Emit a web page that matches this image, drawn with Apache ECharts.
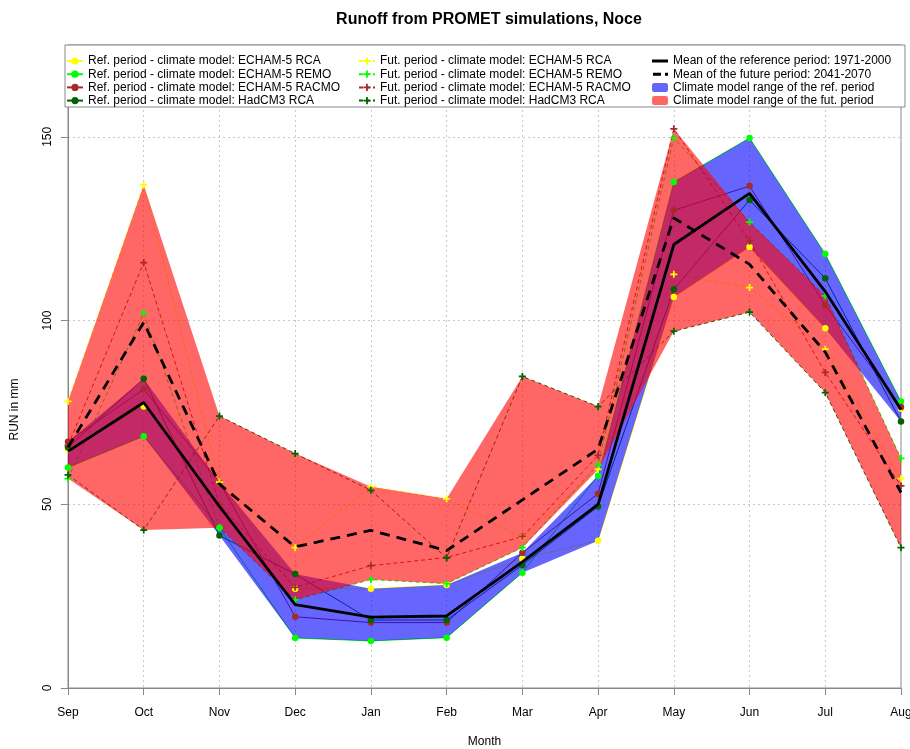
<!DOCTYPE html>
<html>
<head>
<meta charset="utf-8">
<script src="https://cdn.jsdelivr.net/npm/echarts@6/dist/echarts.min.js"></script>
<style>
html,body{margin:0;padding:0;background:#fff;}
#chart{width:910px;height:749px;}
</style>
</head>
<body>
<div id="chart"></div>
<script>
// ---- data ----
const months = ['Sep','Oct','Nov','Dec','Jan','Feb','Mar','Apr','May','Jun','Jul','Aug'];
const yTicks = [0, 50, 100, 150];

// reference period 1971-2000
const refRCA   = [65, 76.6, 56, 27, 27, 28, 35.2, 40.1, 106.4, 120, 97.9, 76];
const refREMO  = [60, 68.5, 43.6, 13.6, 12.8, 13.7, 31.4, 57.8, 137.7, 149.7, 118.1, 78];
const refRACMO = [67, 81.3, 56, 19.4, 17.8, 17.8, 36.8, 52.9, 130, 136.6, 104.2, 76.5];
const refHad   = [65.5, 84.2, 41.5, 31, 18.5, 18.5, 33.5, 49.4, 108.5, 132.8, 111.5, 72.5];

// future period 2041-2070
const futRCA   = [78, 136.9, 56, 38.2, 54.8, 51.5, 41, 59.5, 112.6, 109, 92.2, 57];
const futREMO  = [57, 102, 43.6, 24, 29.5, 28.4, 38.2, 60.8, 149.7, 126.8, 106.7, 62.5];
const futRACMO = [66, 115.8, 50, 27.4, 33.3, 35.5, 41.2, 63.3, 152.2, 121.6, 85.9, 55];
const futHad   = [58, 43, 74, 63.8, 53.8, 35.4, 84.8, 76.6, 97.1, 102.3, 80.4, 38.2];

// means
const meanRef = [64.4, 77.7, 49.4, 22.7, 19.3, 19.6, 34.3, 50, 120.7, 134.6, 107.9, 75.8];
const meanFut = [65.5, 99.5, 55.5, 38.4, 42.9, 37.4, 51.2, 65, 127.9, 115.3, 91.4, 53.2];

// ---- build ----
const FONT = "'Liberation Sans', Arial, Helvetica, sans-serif";
const PLUS = 'path://M3,0H5V3H8V5H5V8H3V5H0V3H3Z';
const ICON_SOLID = 'path://M0,0L0.01,0L0,0.01Z M0,9L0.01,9L0,8.99Z M0,3H17V6H0Z';
const ICON_DASH = 'path://M0,0L0.01,0L0,0.01Z M0,9L0.01,9L0,8.99Z M1,3H9V6H1Z M13,3H16V6H13Z';
const names = {
  refRCA: 'Ref. period - climate model: ECHAM-5 RCA',
  refREMO: 'Ref. period - climate model: ECHAM-5 REMO',
  refRACMO: 'Ref. period - climate model: ECHAM-5 RACMO',
  refHad: 'Ref. period - climate model: HadCM3 RCA',
  futRCA: 'Fut. period - climate model: ECHAM-5 RCA',
  futREMO: 'Fut. period - climate model: ECHAM-5 REMO',
  futRACMO: 'Fut. period - climate model: ECHAM-5 RACMO',
  futHad: 'Fut. period - climate model: HadCM3 RCA',
  meanRef: 'Mean of the reference period: 1971-2000',
  meanFut: 'Mean of the future period: 2041-2070',
  bandRef: 'Climate model range of the ref. period',
  bandFut: 'Climate model range of the fut. period'
};
const colors = {RCA:'#ffff00', REMO:'#00ff00', RACMO:'#a52a2a', Had:'#006400'};

const models = [
  {key:'refRCA', data:refRCA, c:colors.RCA, fut:false},
  {key:'refREMO', data:refREMO, c:colors.REMO, fut:false},
  {key:'refRACMO', data:refRACMO, c:colors.RACMO, fut:false},
  {key:'refHad', data:refHad, c:colors.Had, fut:false},
  {key:'futRCA', data:futRCA, c:colors.RCA, fut:true},
  {key:'futREMO', data:futREMO, c:colors.REMO, fut:true},
  {key:'futRACMO', data:futRACMO, c:colors.RACMO, fut:true},
  {key:'futHad', data:futHad, c:colors.Had, fut:true}
];

const refSet = [refRCA, refREMO, refRACMO, refHad];
const futSet = [futRCA, futREMO, futRACMO, futHad];
const minOf = set => months.map((_, i) => Math.min(...set.map(a => a[i])));
const maxOf = set => months.map((_, i) => Math.max(...set.map(a => a[i])));
const refMin = minOf(refSet), refMax = maxOf(refSet);
const futMin = minOf(futSet), futMax = maxOf(futSet);
const refSpan = refMax.map((v, i) => +(v - refMin[i]).toFixed(3));
const futSpan = futMax.map((v, i) => +(v - futMin[i]).toFixed(3));

const series = [];
// model lines (beneath the range polygons)
models.forEach(m => {
  series.push({
    name: names[m.key], type: 'line', data: m.data, z: 1,
    symbol: m.fut ? PLUS : 'circle', symbolSize: m.fut ? 7 : 6, showSymbol: false,
    itemStyle: {color: m.c},
    lineStyle: {color: m.c, width: 1, type: m.fut ? [4, 3] : 'solid'},
    emphasis: {disabled: true}, silent: true
  });
});
// ranges
series.push({type:'line', data: refMin, stack:'refBand', z:2, symbol:'none',
  lineStyle:{width:0, opacity:0}, silent:true});
series.push({name: names.bandRef, type:'line', data: refSpan, stack:'refBand', z:2, symbol:'none',
  itemStyle:{color:'rgba(0,0,255,0.6)'},
  lineStyle:{width:0, opacity:0}, areaStyle:{color:'rgba(0,0,255,0.6)', opacity:1}, silent:true});
series.push({type:'line', data: futMin, stack:'futBand', z:3, symbol:'none',
  lineStyle:{width:0, opacity:0}, silent:true});
series.push({name: names.bandFut, type:'line', data: futSpan, stack:'futBand', z:3, symbol:'none',
  itemStyle:{color:'rgba(255,0,0,0.6)'},
  lineStyle:{width:0, opacity:0}, areaStyle:{color:'rgba(255,0,0,0.6)', opacity:1}, silent:true});
// markers on top
models.forEach(m => {
  series.push({
    name: names[m.key], type: 'scatter', data: m.data, z: 4,
    symbol: m.fut ? PLUS : 'circle', symbolSize: m.fut ? 7 : 6.5,
    itemStyle: {color: m.c, opacity: 1}, silent: true
  });
});
// means
series.push({name: names.meanRef, type:'line', data: meanRef, z:5, symbol:'none',
  itemStyle:{color:'#000'}, lineStyle:{color:'#000', width:2.8}, silent:true});
series.push({name: names.meanFut, type:'line', data: meanFut, z:5, symbol:'none',
  itemStyle:{color:'#000'}, lineStyle:{color:'#000', width:2.8, type:[10, 7]}, silent:true});

const legendBase = {
  orient: 'vertical', top: 50, itemWidth: 16, itemHeight: 9, itemGap: 1.2,
  selectedMode: false, z: 20,
  textStyle: {fontFamily: FONT, fontSize: 12, color: '#000'}
};

const option = {
  animation: false,
  backgroundColor: '#fff',
  title: {
    text: 'Runoff from PROMET simulations, Noce', left: 484, top: 7, textAlign: 'center',
    textStyle: {fontFamily: FONT, fontSize: 16, fontWeight: 'bold', color: '#000'}
  },
  grid: {left: 68, right: 9, top: 45, bottom: 61, show: true, borderColor: '#888', borderWidth: 1,
    backgroundColor: 'transparent', outerBoundsMode: 'none', containLabel: false},
  legend: [
    Object.assign({}, legendBase, {left: 61, data: [names.refRCA, names.refREMO, names.refRACMO, names.refHad]}),
    Object.assign({}, legendBase, {left: 353, data: [names.futRCA, names.futREMO, names.futRACMO, names.futHad]}),
    Object.assign({}, legendBase, {left: 647, data: [
      {name: names.meanRef, icon: ICON_SOLID, itemStyle: {color: '#000'}},
      {name: names.meanFut, icon: ICON_DASH, itemStyle: {color: '#000'}},
      {name: names.bandRef, icon: 'roundRect', itemStyle: {color: 'rgba(0,0,255,0.6)'}},
      {name: names.bandFut, icon: 'roundRect', itemStyle: {color: 'rgba(255,0,0,0.6)'}}
    ]})
  ],
  graphic: [{
    type: 'rect', z: 15, silent: true,
    shape: {x: 65, y: 45, width: 840, height: 62},
    style: {fill: '#fff', stroke: '#888', lineWidth: 1}
  }],
  xAxis: {
    type: 'category', data: months, boundaryGap: false,
    name: 'Month', nameLocation: 'middle', nameGap: 48,
    nameTextStyle: {fontFamily: FONT, fontSize: 12, color: '#000'},
    axisLine: {lineStyle: {color: '#888', width: 1}},
    axisTick: {show: true, length: 7, lineStyle: {color: '#888'}, alignWithLabel: true},
    axisLabel: {fontFamily: FONT, fontSize: 12, color: '#000', margin: 19, interval: 0},
    splitLine: {show: true, lineStyle: {color: '#c8c8c8', type: [2, 3], width: 1}}
  },
  yAxis: {
    type: 'value', min: 0, max: 175, interval: 50,
    name: 'RUN in mm', nameLocation: 'middle', nameGap: 47,
    nameTextStyle: {fontFamily: FONT, fontSize: 12, color: '#000', padding: [0, 86, 0, 0]},
    axisLine: {show: true, lineStyle: {color: '#888', width: 1}},
    axisTick: {show: true, length: 7, lineStyle: {color: '#888'}, customValues: yTicks},
    axisLabel: {fontFamily: FONT, fontSize: 12, color: '#000', rotate: 90, margin: 14, customValues: yTicks},
    splitLine: {show: true, lineStyle: {color: '#c8c8c8', type: [2, 3], width: 1}}
  },
  series: series
};

const chart = echarts.init(document.getElementById('chart'), null, {renderer: 'canvas'});
chart.setOption(option);
</script>
</body>
</html>
